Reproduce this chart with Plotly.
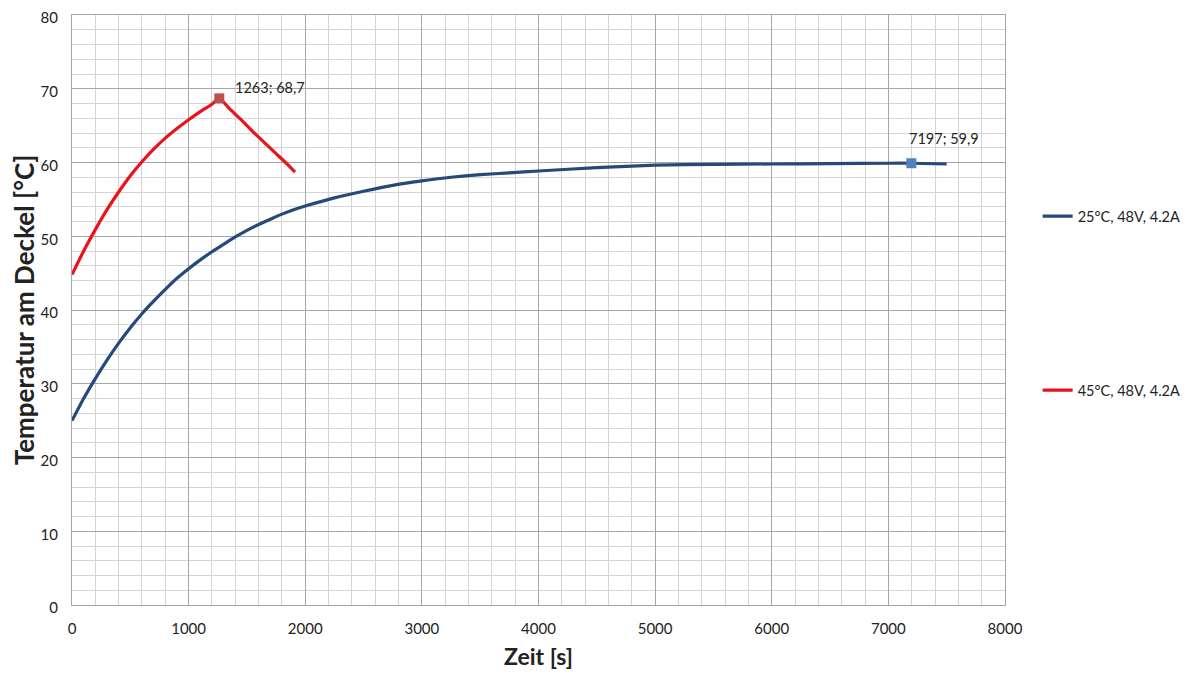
import plotly.graph_objects as go

# Series 1: 25°C, 48V, 4.2A
blue_t = [0, 100, 200, 300, 400, 500, 600, 700, 800, 900, 1000, 1100, 1200, 1300, 1400,
          1500, 1600, 1700, 1800, 1900, 2000, 2250, 2500, 2750, 3000, 3250, 3500, 3750,
          4000, 4500, 5000, 5500, 6000, 6500, 7000, 7197, 7500]
blue_T = [25.0, 28.0, 30.7, 33.2, 35.5, 37.6, 39.5, 41.2, 42.8, 44.3, 45.6, 46.8, 47.9,
          48.9, 49.9, 50.8, 51.6, 52.3, 53.0, 53.6, 54.1, 55.2, 56.1, 56.9, 57.5, 58.0,
          58.35, 58.6, 58.85, 59.3, 59.65, 59.75, 59.8, 59.85, 59.9, 59.9, 59.8]

# Series 2: 45°C, 48V, 4.2A
red_t = [0, 100, 200, 300, 400, 500, 600, 700, 800, 900, 1000, 1100, 1200, 1263,
         1350, 1450, 1550, 1650, 1750, 1850, 1912]
red_T = [44.8, 48.0, 50.9, 53.6, 56.0, 58.2, 60.1, 61.8, 63.3, 64.6, 65.8, 66.9, 67.9, 68.7,
         67.3, 65.8, 64.2, 62.7, 61.2, 59.7, 58.7]

names = ["25°C, 48V, 4.2A", "45°C, 48V, 4.2A"]
peak_red = (1263, 68.7)
peak_blue = (7197, 59.9)

x_ticks = [0, 1000, 2000, 3000, 4000, 5000, 6000, 7000, 8000]
y_ticks = [0, 10, 20, 30, 40, 50, 60, 70, 80]

FONT = "Lato, 'Open Sans', sans-serif"

fig = go.Figure()
fig.add_trace(go.Scatter(x=blue_t, y=blue_T, mode="lines", name=names[0],
                         line=dict(color="#24497a", width=3.2, shape="spline", smoothing=0.5),
                         legendgroup="a"))
fig.add_trace(go.Scatter(x=red_t, y=red_T, mode="lines", name=names[1],
                         line=dict(color="#e8141c", width=3.2, shape="spline", smoothing=0.5),
                         legendgroup="b"))
fig.add_trace(go.Scatter(x=[peak_red[0]], y=[peak_red[1]], mode="markers", showlegend=False,
                         marker=dict(symbol="square", size=10, color="#c0504d")))
fig.add_trace(go.Scatter(x=[peak_blue[0]], y=[peak_blue[1]], mode="markers", showlegend=False,
                         marker=dict(symbol="square", size=10, color="#4f81bd")))

def fmt(p):
    return f"{p[0]}; {str(p[1]).replace('.', ',')}"

fig.add_annotation(x=peak_red[0], y=peak_red[1], text=fmt(peak_red), showarrow=False,
                   xanchor="left", yanchor="bottom", xshift=14, yshift=0,
                   font=dict(family=FONT, size=14.5, color="#222"))
fig.add_annotation(x=peak_blue[0], y=peak_blue[1], text=fmt(peak_blue), showarrow=False,
                   xanchor="left", yanchor="bottom", xshift=-4, yshift=14,
                   font=dict(family=FONT, size=14.5, color="#222"))

fig.update_layout(
    width=1181, height=667,
    margin=dict(l=64, r=184, t=7, b=70, autoexpand=False),
    paper_bgcolor="white", plot_bgcolor="white",
    font=dict(family=FONT, color="#222"),
    legend=dict(x=1.035, y=0.686, xanchor="left", yanchor="top",
                traceorder="grouped", tracegroupgap=152,
                font=dict(family=FONT, size=14.5, color="#222"),
                bgcolor="rgba(0,0,0,0)"),
    showlegend=True,
)
fig.update_xaxes(range=[0, 8000], tickvals=x_ticks, ticktext=[str(v) for v in x_ticks],
                 automargin=False, ticklabeloverflow="allow",
                 showgrid=True, gridcolor="#a6a6a6", gridwidth=1,
                 minor=dict(dtick=200, showgrid=True, gridcolor="#d4d4d4", gridwidth=1),
                 showline=True, linecolor="#a6a6a6", linewidth=1, mirror=True,
                 zeroline=False, ticks="", ticklabelstandoff=10,
                 tickfont=dict(family=FONT, size=15, color="#222"),
                 title=dict(text="<b>Zeit [s]</b>", font=dict(family=FONT, size=23, color="#222"),
                            standoff=12))
fig.update_yaxes(range=[0, 80], tickvals=y_ticks, ticktext=[str(v) for v in y_ticks],
                 automargin=False, ticklabeloverflow="allow", ticklabelshift=3,
                 showgrid=True, gridcolor="#a6a6a6", gridwidth=1,
                 minor=dict(dtick=2, showgrid=True, gridcolor="#d4d4d4", gridwidth=1),
                 showline=True, linecolor="#a6a6a6", linewidth=1, mirror=True,
                 zeroline=False, ticks="", ticklabelstandoff=10,
                 tickfont=dict(family=FONT, size=15, color="#222"),
                 title=dict(text="<b>Temperatur am Deckel [°C]</b>",
                            font=dict(family=FONT, size=26, color="#222"), standoff=12))

fig.write_html("out.html")
